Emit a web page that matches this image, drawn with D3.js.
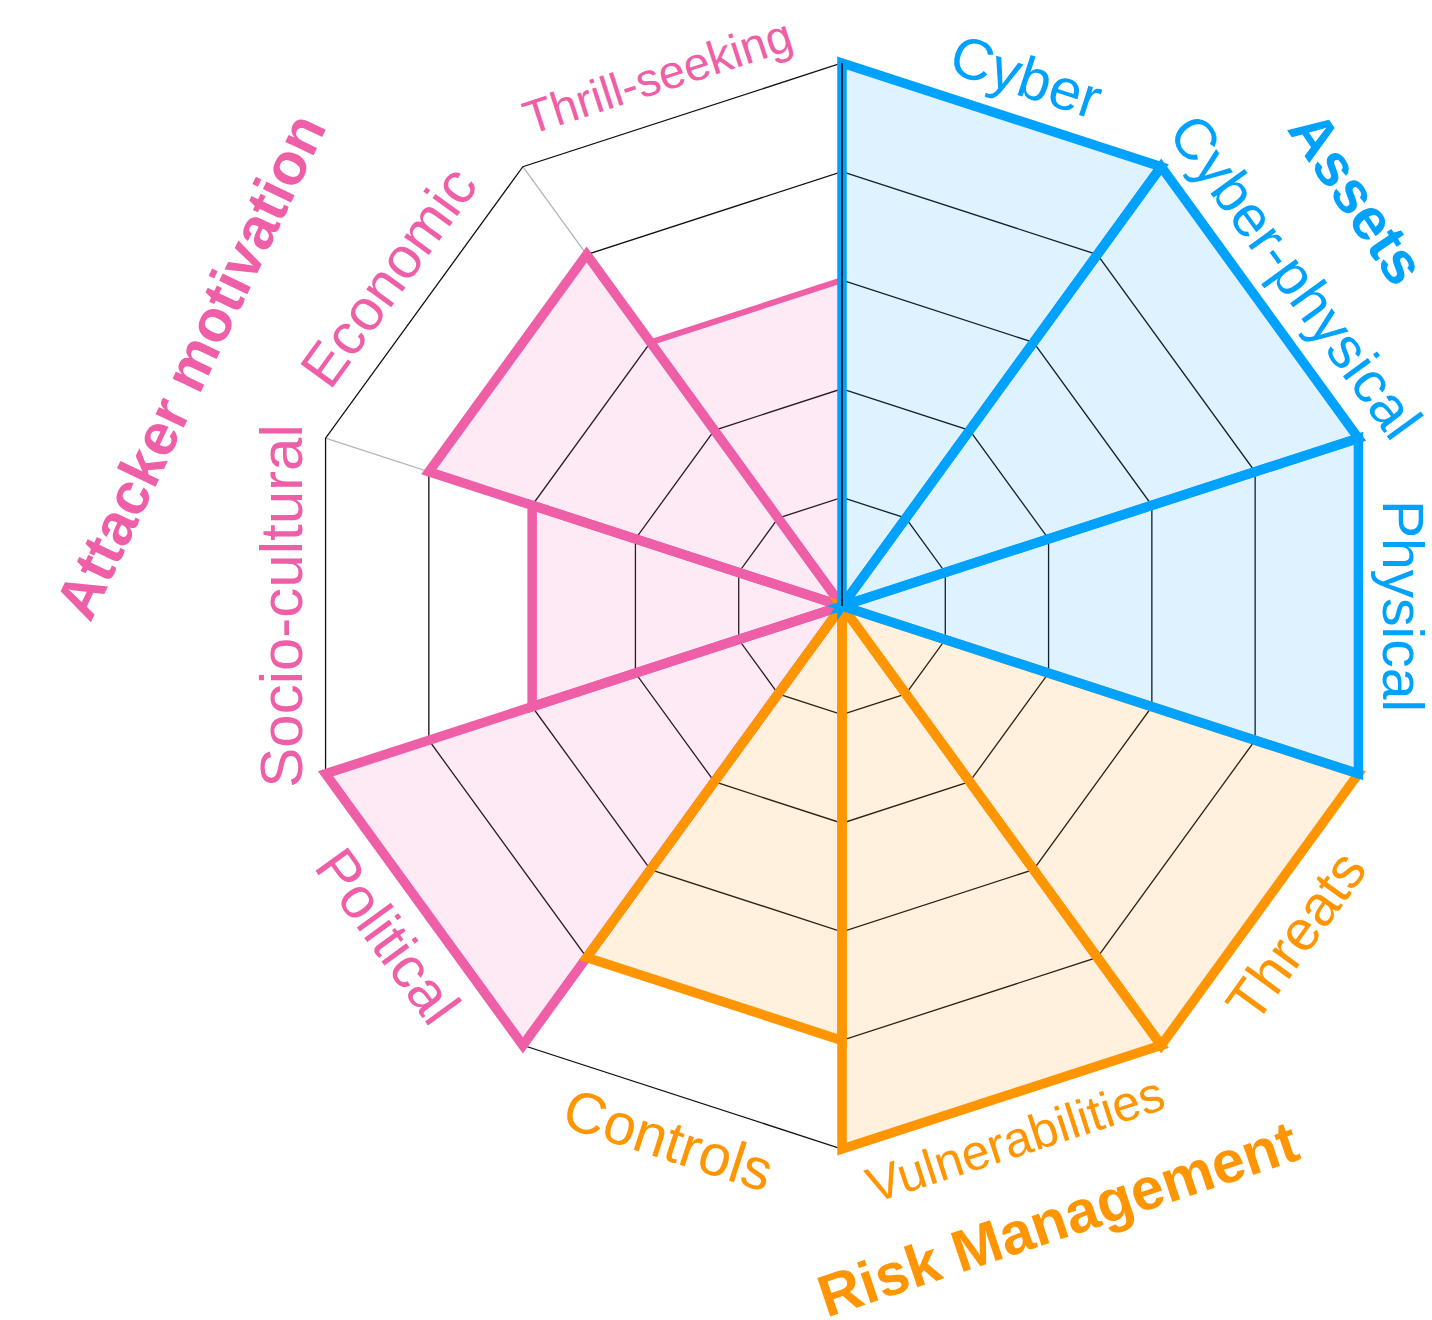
<!DOCTYPE html>
<html>
<head>
<meta charset="utf-8">
<script src="https://cdn.jsdelivr.net/npm/d3@7"></script>
<style>
  html, body { margin: 0; padding: 0; background: #fff; }
  svg { display: block; font-family: "Liberation Sans", Arial, Helvetica, sans-serif; }
</style>
</head>
<body>
<svg id="chart" width="1432" height="1320"></svg>
<script>
// ---- data ----
const categories = ["Cyber", "Cyber-physical", "Physical", "Threats", "Vulnerabilities",
                    "Controls", "Political", "Socio-cultural", "Economic", "Thrill-seeking"];
const values = [5, 5, 5, 5, 5, 4, 5, 3, 4, 3];
const categoryGroup = ["Assets", "Assets", "Assets", "Risk Management", "Risk Management",
                       "Risk Management", "Attacker motivation", "Attacker motivation",
                       "Attacker motivation", "Attacker motivation"];
const groups = ["Assets", "Risk Management", "Attacker motivation"];
const levels = [1, 2, 3, 4, 5];
const maxValue = 5;

// ---- styles ----
const groupColor = { "Assets": "#00a2ff", "Risk Management": "#ff9500", "Attacker motivation": "#ee5fa8" };
const drawOrder = ["Attacker motivation", "Risk Management", "Assets"];
const labelFontSize = { "Cyber": 58, "Cyber-physical": 58, "Physical": 57, "Threats": 57,
  "Vulnerabilities": 50, "Controls": 58, "Political": 58, "Socio-cultural": 60,
  "Economic": 58, "Thrill-seeking": 47 };
const labelAngleShift = { "Cyber": 1.2, "Thrill-seeking": -1.2 };   // degrees
const wedgeStroke = { "Thrill-seeking": 6 };
const groupLabelPos = {
  "Assets": { angle: 51.6, r: 657, rot: 56 },
  "Risk Management": { angle: 160.6, r: 650, rot: -18.5 },
  "Attacker motivation": { angle: 290.2, r: 694, rot: -64.5 }
};

const W = 1432, H = 1320, cx = 842, cy = 606, R = 543;
const svg = d3.select("#chart");
const g = svg.append("g").attr("transform", `translate(${cx},${cy})`);

const rScale = d3.scaleLinear().domain([0, maxValue]).range([0, R]);
const n = categories.length;
const aScale = d3.scaleLinear().domain([0, n]).range([0, 2 * Math.PI]);
const line = d3.line().curve(d3.curveLinearClosed);

// axes (gray spokes)
g.append("g").selectAll("line").data(d3.range(n)).join("line")
  .attr("x1", 0).attr("y1", 0)
  .attr("x2", i => d3.pointRadial(aScale(i), rScale(maxValue))[0])
  .attr("y2", i => d3.pointRadial(aScale(i), rScale(maxValue))[1])
  .attr("stroke", "#b5b5b5").attr("stroke-width", 1.3);

// rings
g.append("g").selectAll("path").data(levels).join("path")
  .attr("d", lv => line(d3.range(n).map(i => d3.pointRadial(aScale(i), rScale(lv)))))
  .attr("fill", "none").attr("stroke", "#111").attr("stroke-width", 1.3);

// wedges
const wedges = categories.map((c, i) => ({ c, i, v: values[i], grp: categoryGroup[i] }));
wedges.sort((a, b) => drawOrder.indexOf(a.grp) - drawOrder.indexOf(b.grp));
g.append("g").selectAll("path").data(wedges).join("path")
  .attr("d", d => line([[0, 0], d3.pointRadial(aScale(d.i), rScale(d.v)), d3.pointRadial(aScale(d.i + 1), rScale(d.v))]))
  .attr("fill", d => groupColor[d.grp]).attr("fill-opacity", 0.13)
  .attr("stroke", d => groupColor[d.grp])
  .attr("stroke-width", d => wedgeStroke[d.c] || 9.5)
  .attr("stroke-linejoin", "miter").attr("stroke-miterlimit", 4);

// first axis drawn on top
g.append("line").attr("x1", 0).attr("y1", 0)
  .attr("x2", d3.pointRadial(aScale(0), rScale(maxValue))[0])
  .attr("y2", d3.pointRadial(aScale(0), rScale(maxValue))[1])
  .attr("stroke", "#000").attr("stroke-width", 1.5);

// category labels
const labelR = 561;
g.append("g").selectAll("text").data(categories.map((c, i) => ({ c, i }))).join("text")
  .attr("transform", d => {
    const a = aScale(d.i + 0.5) + (labelAngleShift[d.c] || 0) * Math.PI / 180;
    const [x, y] = d3.pointRadial(a, labelR);
    let deg = aScale(d.i + 0.5) * 180 / Math.PI;
    if (deg > 90 && deg < 270) deg -= 180;
    else if (deg >= 270) deg -= 360;
    return `translate(${x},${y}) rotate(${deg})`;
  })
  .attr("text-anchor", "middle").attr("dominant-baseline", "central")
  .attr("font-size", d => labelFontSize[d.c])
  .attr("fill", d => groupColor[categoryGroup[d.i]])
  .text(d => d.c);

// group labels
g.append("g").selectAll("text").data(groups).join("text")
  .attr("transform", d => {
    const p = groupLabelPos[d];
    const [x, y] = d3.pointRadial(p.angle * Math.PI / 180, p.r);
    return `translate(${x},${y}) rotate(${p.rot})`;
  })
  .attr("text-anchor", "middle").attr("dominant-baseline", "central")
  .attr("font-size", 59).attr("font-weight", "bold")
  .attr("fill", d => groupColor[d])
  .text(d => d);
</script>
</body>
</html>
